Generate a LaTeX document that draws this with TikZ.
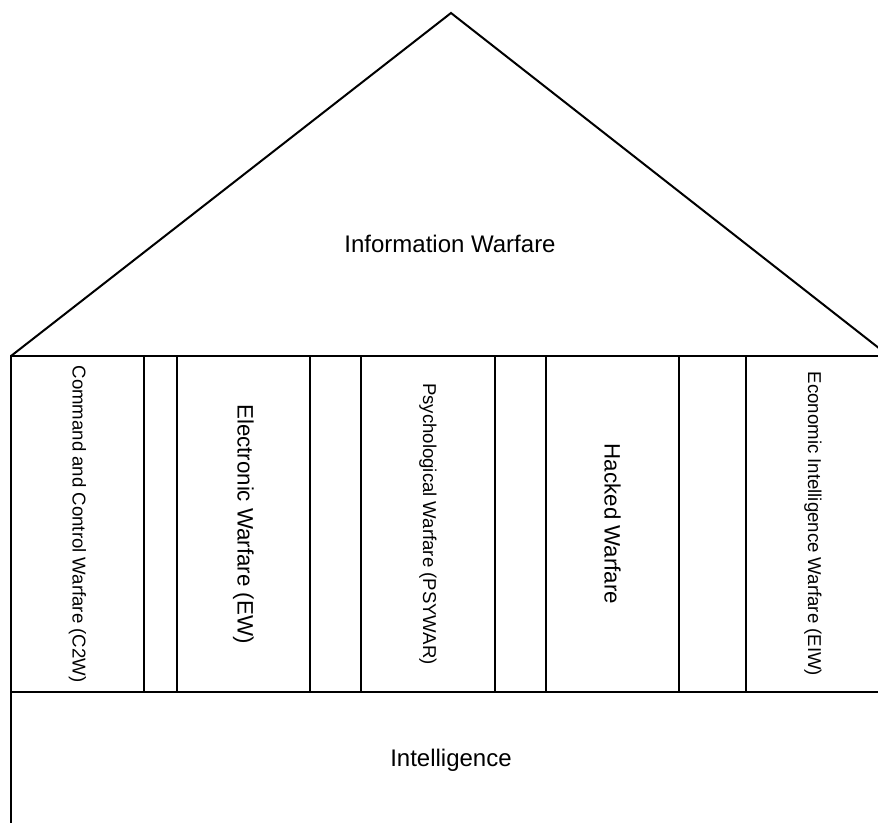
\documentclass[tikz,border=0pt]{standalone}
\usepackage{fontspec}
\setmainfont{Liberation Sans}
\usepackage{graphicx}
\usetikzlibrary{positioning}
\tikzset{
  pillar/.style={
    draw,
    rectangle,
    line width=2pt,
    minimum width=133pt,
    minimum height=336pt,
    inner sep=0pt,
    outer sep=0pt
  },
  spacer/.style={
    pillar,
    minimum width=#1
  },
  footing/.style={
    pillar,
    minimum width=880pt,
    minimum height=136pt
  },
  roof/.style={
    draw,
    line width=2pt,
    line join=miter
  },
  small/.style={font=\fontsize{18.6}{20}\selectfont},
  large/.style={font=\fontsize{22.3}{24}\selectfont},
  title/.style={font=\fontsize{24}{26}\selectfont}
}

\begin{document}
\begin{tikzpicture}[x=1pt, y=-1pt]
        \useasboundingbox (0,0) rectangle (878,822);
        \clip (0,0) rectangle (878,822);

        % pillars and spacers
        \node[pillar, small, anchor=north west] (c2w) at (11,356) {\rotatebox{-90}{Command and Control Warfare (C2W)}};
        \node[spacer=33pt, right=0pt of c2w] (s1) {};
        \node[pillar, large, right=0pt of s1] (ew) {\rotatebox{-90}{Electronic Warfare (EW)}};
        \node[spacer=51pt, right=0pt of ew] (s2) {};
        \node[pillar, small, minimum width=134pt, right=0pt of s2] (psywar) {\rotatebox{-90}{Psychological Warfare (PSYWAR)}};
        \node[spacer=51pt, right=0pt of psywar] (s3) {};
        \node[pillar, large, right=0pt of s3] (hacked) {\rotatebox{-90}{Hacked Warfare}};
        \node[spacer=67pt, right=0pt of hacked] (s4) {};
        \node[pillar, small, minimum width=134pt, right=0pt of s4] (eiw) {\rotatebox{-90}{Economic Intelligence Warfare (EIW)}};

        % base
        \node[footing, title, below=0pt of c2w.south west, anchor=north west] (intel) {Intelligence};

        % roof
        \coordinate (apex) at (451,13);
        \coordinate (eaves) at (889,356);
        \draw[roof] (c2w.north west) -- (apex) -- (eaves);
        \node[title, anchor=base] (iw) at (450,252) {Information Warfare};
      \end{tikzpicture}
\end{document}
